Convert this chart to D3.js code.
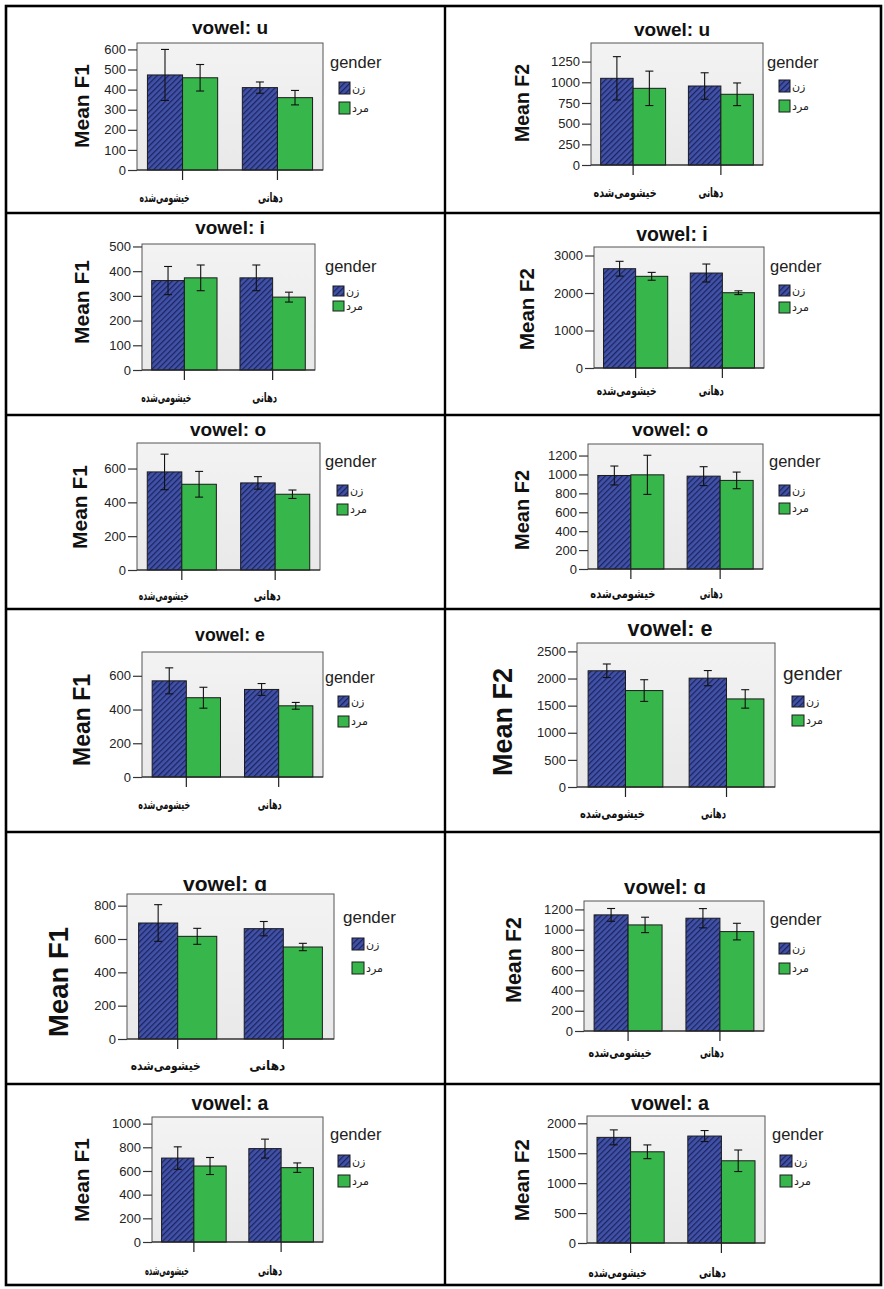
<!DOCTYPE html>
<html>
<head>
<meta charset="utf-8">
<script src="https://cdn.jsdelivr.net/npm/d3@7"></script>
<style>
  body { margin: 0; background: #fff; }
  svg { display: block; }
  .lat { font-family: "Liberation Sans", Arial, "DejaVu Sans", sans-serif; }
  .fa { font-family: "DejaVu Sans", sans-serif; }
</style>
</head>
<body>
<svg id="fig" width="884" height="1289"></svg>
<script>
// ---- data -------------------------------------------------------------
const vowels = ["u", "i", "o", "e", "ɑ", "a"];
const categories = ["خیشومی‌شده", "دهانی"];
const genders = ["زن", "مرد"];
const legendTitle = "gender";

// Mean F1 (Hz) per vowel
const f1NasalFemale = [473, 362, 580, 570, 696, 709];
const f1NasalMale   = [459, 373, 507, 470, 616, 642];
const f1OralFemale  = [410, 373, 515, 519, 662, 789];
const f1OralMale    = [360, 295, 448, 422, 552, 628];
// error bar half-widths for F1
const f1NasalFemaleErr = [127, 57, 105, 77, 110, 95];
const f1NasalMaleErr   = [66, 52, 76, 62, 48, 72];
const f1OralFemaleErr  = [28, 52, 37, 35, 43, 80];
const f1OralMaleErr    = [36, 20, 25, 20, 22, 40];

// Mean F2 (Hz) per vowel
const f2NasalFemale = [1048, 2648, 989, 2143, 1146, 1765];
const f2NasalMale   = [927, 2445, 996, 1778, 1047, 1524];
const f2OralFemale  = [955, 2533, 982, 2007, 1113, 1787];
const f2OralMale    = [855, 2008, 937, 1624, 981, 1374];
// error bar half-widths for F2
const f2NasalFemaleErr = [262, 197, 100, 125, 63, 125];
const f2NasalMaleErr   = [208, 105, 207, 200, 76, 115];
const f2OralFemaleErr  = [160, 240, 100, 140, 95, 92];
const f2OralMaleErr    = [137, 50, 88, 170, 82, 180];

// axis ticks and upper limits
const f1Ticks = [
  [0, 100, 200, 300, 400, 500, 600],
  [0, 100, 200, 300, 400, 500],
  [0, 200, 400, 600],
  [0, 200, 400, 600],
  [0, 200, 400, 600, 800],
  [0, 200, 400, 600, 800, 1000]
];
const f2Ticks = [
  [0, 250, 500, 750, 1000, 1250],
  [0, 1000, 2000, 3000],
  [0, 200, 400, 600, 800, 1000, 1200],
  [0, 500, 1000, 1500, 2000, 2500],
  [0, 200, 400, 600, 800, 1000, 1200],
  [0, 500, 1000, 1500, 2000]
];
const f1Max = [632, 510, 751, 741, 870, 1056];
const f2Max = [1475, 3227, 1322, 2655, 1283, 2122];
const measureLabels = ["Mean F1", "Mean F2"];

// ---- layout of each cell (row-major: F1 then F2) ------------------------
// box: plot frame [left, top, right, zero-line]; t*: title; a*: axis title;
// g*: legend title; s*: legend swatches; ly/lx/lw: category label y, x-shift, width
const layout = [
  {box:[137,43,323,170],  tx:230, ty:27,  tfs:19,   ax:82,  ay:106,  afs:21,   gx:330, gy:62,   gfs:16.5, sx:339, sy:[82,102],    sw:11, sh:12, ly:197,  lx:[-18,-7],  lw:[50,25]},
  {box:[591,43,763,165],  tx:672, ty:29,  tfs:19,   ax:522, ay:103,  afs:19.5, gx:767, gy:62,   gfs:16.5, sx:779, sy:[80,100],    sw:11, sh:12, ly:192,  lx:[-8,-10],  lw:[63,25]},
  {box:[142,244,315,370], tx:230, ty:227, tfs:19,   ax:82,  ay:302,  afs:21,   gx:325, gy:266,  gfs:16.5, sx:333, sy:[286,301],   sw:11, sh:10, ly:397,  lx:[-18,-8],  lw:[50,25]},
  {box:[594,247,764,368], tx:672, ty:234, tfs:19.5, ax:527, ay:309,  afs:20.5, gx:770, gy:266,  gfs:16.5, sx:779, sy:[285,302],   sw:11, sh:11, ly:390,  lx:[-9,-11],  lw:[60,25]},
  {box:[137,443,320,570], tx:228, ty:429, tfs:19,   ax:80,  ay:507,  afs:21,   gx:325, gy:461,  gfs:16.5, sx:337, sy:[485,504],   sw:11, sh:11, ly:595,  lx:[-18,-8],  lw:[50,27]},
  {box:[588,444,763,569], tx:670, ty:429, tfs:19,   ax:522, ay:510,  afs:20,   gx:769, gy:461,  gfs:16.5, sx:779, sy:[485,503],   sw:11, sh:11, ly:593,  lx:[-8,-9],   lw:[65,23]},
  {box:[142,652,323,777], tx:230, ty:635, tfs:17.7, ax:82,  ay:720,  afs:23,   gx:325, gy:677,  gfs:16,   sx:338, sy:[696,716],   sw:11, sh:11, ly:804,  lx:[-22,-9],  lw:[52,24]},
  {box:[577,643,775,787], tx:670, ty:628, tfs:21.5, ax:503, ay:722,  afs:27,   gx:783, gy:673,  gfs:19,   sx:792, sy:[696,715],   sw:12, sh:11, ly:813,  lx:[-13,-13], lw:[65,25]},
  {box:[127,894,334,1039],tx:225, ty:884, tfs:21,   ax:58,  ay:982,  afs:27.5, gx:343, gy:917,  gfs:17,   sx:352, sy:[938,962],   sw:12, sh:12, ly:1065, lx:[-12,-16], lw:[70,36]},
  {box:[584,901,764,1031],tx:665, ty:887, tfs:20.5, ax:513, ay:960,  afs:21.5, gx:770, gy:919,  gfs:16.5, sx:779, sy:[943,963],   sw:11, sh:11, ly:1052, lx:[-8,-8],   lw:[63,24]},
  {box:[152,1117,323,1242],tx:230,ty:1103,tfs:19.5, ax:82,  ay:1180, afs:21,   gx:330, gy:1134, gfs:16.5, sx:338, sy:[1155,1175], sw:12, sh:12, ly:1270, lx:[-27,-11], lw:[44,24]},
  {box:[587,1116,765,1243],tx:670,ty:1103,tfs:19.8, ax:522, ay:1180, afs:20.5, gx:772, gy:1134, gfs:16.5, sx:780, sy:[1155,1175], sw:12, sh:12, ly:1272, lx:[-13,-9],  lw:[58,27]}
];
const rowLines = [213, 415, 609, 832, 1084];

const femaleFill = "url(#hatch)";
const maleFill = "#37b64b";

// ---- drawing ----------------------------------------------------------
const svg = d3.select("#fig");
const defs = svg.append("defs");

const hatch = defs.append("pattern")
  .attr("id", "hatch").attr("patternUnits", "userSpaceOnUse")
  .attr("width", 4).attr("height", 4)
  .attr("patternTransform", "rotate(45)");
hatch.append("rect").attr("width", 4).attr("height", 4).attr("fill", "#4152a8");
hatch.append("line").attr("x1", 0.6).attr("y1", 0).attr("x2", 0.6).attr("y2", 4)
  .attr("stroke", "#1c245e").attr("stroke-width", 1.3);

const bg = defs.append("linearGradient").attr("id", "plotBg")
  .attr("x1", 0).attr("y1", 0).attr("x2", 0).attr("y2", 1);
bg.append("stop").attr("offset", "0%").attr("stop-color", "#f3f3f3");
bg.append("stop").attr("offset", "100%").attr("stop-color", "#e9e9e9");

function panelData(row, col) {
  const m = col === 0
    ? [[f1NasalFemale, f1NasalMale], [f1OralFemale, f1OralMale]]
    : [[f2NasalFemale, f2NasalMale], [f2OralFemale, f2OralMale]];
  const e = col === 0
    ? [[f1NasalFemaleErr, f1NasalMaleErr], [f1OralFemaleErr, f1OralMaleErr]]
    : [[f2NasalFemaleErr, f2NasalMaleErr], [f2OralFemaleErr, f2OralMaleErr]];
  const out = [];
  categories.forEach((c, ci) => genders.forEach((g, gi) => {
    out.push({cat: c, gender: g, gi, mean: m[ci][gi][row], err: e[ci][gi][row]});
  }));
  return out;
}

function drawPanel(row, col) {
  const L = layout[row * 2 + col];
  const [x0, y0, x1, y1] = L.box;
  const ticks = col === 0 ? f1Ticks[row] : f2Ticks[row];
  const yMax = col === 0 ? f1Max[row] : f2Max[row];
  const data = panelData(row, col);
  const g = svg.append("g");

  const y = d3.scaleLinear().domain([0, yMax]).range([y1, y0]);
  const x = d3.scaleBand().domain(categories).range([x0, x1])
    .paddingInner(0.26).paddingOuter(0.11);
  const xg = d3.scaleBand().domain(genders).range([0, x.bandwidth()]);

  // plot area
  g.append("rect").attr("x", x0).attr("y", y0)
    .attr("width", x1 - x0).attr("height", y1 - y0)
    .attr("fill", "url(#plotBg)").attr("stroke", "#555").attr("stroke-width", 1);

  // bars
  g.selectAll("rect.bar").data(data).join("rect").attr("class", "bar")
    .attr("x", d => x(d.cat) + xg(d.gender))
    .attr("y", d => y(d.mean))
    .attr("width", xg.bandwidth())
    .attr("height", d => y(0) - y(d.mean))
    .attr("fill", d => d.gi === 0 ? femaleFill : maleFill)
    .attr("stroke", "#1b1b1b").attr("stroke-width", 1);

  // error bars
  const eb = g.selectAll("g.err").data(data).join("g").attr("class", "err")
    .attr("stroke", "#111").attr("stroke-width", 1.1);
  const cx = d => x(d.cat) + xg(d.gender) + xg.bandwidth() / 2;
  eb.append("line").attr("x1", cx).attr("x2", cx)
    .attr("y1", d => y(d.mean + d.err)).attr("y2", d => y(d.mean - d.err));
  eb.append("line").attr("x1", d => cx(d) - 4).attr("x2", d => cx(d) + 4)
    .attr("y1", d => y(d.mean + d.err)).attr("y2", d => y(d.mean + d.err));
  eb.append("line").attr("x1", d => cx(d) - 4).attr("x2", d => cx(d) + 4)
    .attr("y1", d => y(d.mean - d.err)).attr("y2", d => y(d.mean - d.err));

  // bottom axis line
  g.append("line").attr("x1", x0).attr("x2", x1).attr("y1", y1).attr("y2", y1)
    .attr("stroke", "#222").attr("stroke-width", 1.2);

  // y axis
  const ya = g.append("g").attr("class", "lat")
    .attr("transform", `translate(${x0},0)`)
    .call(d3.axisLeft(y).tickValues(ticks).tickSize(9).tickPadding(2).tickFormat(d3.format("d")));
  ya.select(".domain").remove();
  ya.selectAll(".tick line").attr("stroke", "#333").attr("stroke-width", 1.2);
  ya.selectAll(".tick text").attr("font-size", 13).attr("fill", "#222");

  // x axis ticks and category labels
  const xa = g.append("g").attr("transform", `translate(0,${y1})`)
    .call(d3.axisBottom(x).tickSize(10).tickFormat(""));
  xa.select(".domain").remove();
  xa.selectAll(".tick line").attr("stroke", "#222").attr("stroke-width", 1.2);
  g.selectAll("text.cat").data(categories).join("text").attr("class", "cat fa")
    .attr("x", (d, i) => x(d) + x.bandwidth() / 2 + L.lx[i])
    .attr("y", L.ly).attr("dy", "0.35em")
    .attr("text-anchor", "middle").attr("direction", "rtl")
    .attr("textLength", (d, i) => L.lw[i]).attr("lengthAdjust", "spacingAndGlyphs")
    .attr("font-size", 13).attr("font-weight", "bold").attr("fill", "#111")
    .text(d => d);

  // titles
  g.append("text").attr("class", "lat").attr("x", L.tx).attr("y", L.ty).attr("dy", "0.35em")
    .attr("text-anchor", "middle").attr("font-size", L.tfs).attr("font-weight", "bold")
    .attr("fill", "#111").text("vowel: " + vowels[row]);
  g.append("text").attr("class", "lat")
    .attr("transform", `translate(${L.ax},${L.ay}) rotate(-90)`).attr("dy", "0.35em")
    .attr("text-anchor", "middle").attr("font-size", L.afs).attr("font-weight", "bold")
    .attr("fill", "#111").text(measureLabels[col]);

  // legend
  g.append("text").attr("class", "lat").attr("x", L.gx).attr("y", L.gy).attr("dy", "0.35em")
    .attr("font-size", L.gfs).attr("fill", "#222").text(legendTitle);
  const lg = g.selectAll("g.leg").data(genders).join("g").attr("class", "leg")
    .attr("transform", (d, i) => `translate(${L.sx},${L.sy[i]})`);
  lg.append("rect").attr("width", L.sw).attr("height", L.sh)
    .attr("fill", (d, i) => i === 0 ? femaleFill : maleFill)
    .attr("stroke", "#1b1b1b").attr("stroke-width", 1);
  lg.append("text").attr("class", "fa")
    .attr("x", L.sw + 2).attr("y", L.sh / 2).attr("dy", "0.35em")
    .attr("text-anchor", "end").attr("direction", "rtl")
    .attr("font-size", 11).attr("fill", "#222").text(d => d);
}

for (let r = 0; r < vowels.length; r++) {
  drawPanel(r, 0);
  drawPanel(r, 1);
}

// table grid
const grid = svg.append("g").attr("stroke", "#000").attr("fill", "none");
grid.append("rect").attr("x", 6).attr("y", 6).attr("width", 875).attr("height", 1279)
  .attr("stroke-width", 2.6);
grid.append("line").attr("x1", 445).attr("x2", 445).attr("y1", 6).attr("y2", 1285)
  .attr("stroke-width", 2.4);
grid.selectAll("line.row").data(rowLines).join("line").attr("class", "row")
  .attr("x1", 6).attr("x2", 881).attr("y1", d => d).attr("y2", d => d)
  .attr("stroke-width", 2.4);
</script>
</body>
</html>
